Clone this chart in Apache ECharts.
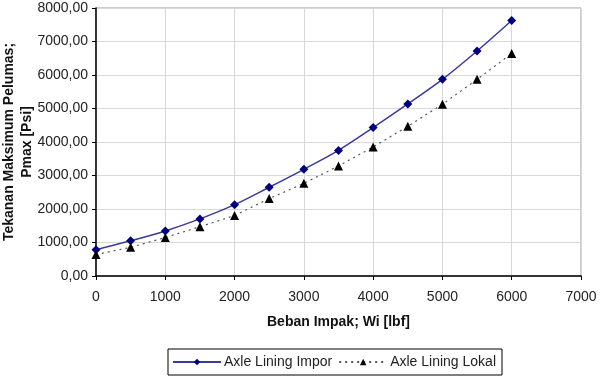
<!DOCTYPE html>
<html>
<head>
<meta charset="utf-8">
<script src="https://cdn.jsdelivr.net/npm/echarts@6/dist/echarts.min.js"></script>
<style>
  html, body { margin: 0; padding: 0; background: #fff; }
  #chart { width: 600px; height: 378px; }
</style>
</head>
<body>
<div id="chart"></div>
<script>
// beban impak Wi [lbf]
const beban = [0, 500, 1000, 1500, 2000, 2500, 3000, 3500, 4000, 4500, 5000, 5500, 6000];
// tekanan maksimum pelumas Pmax [Psi]
const impor = [785, 1050, 1345, 1705, 2130, 2650, 3185, 3750, 4430, 5135, 5870, 6715, 7625];
const lokal = [640, 855, 1150, 1470, 1805, 2310, 2765, 3285, 3850, 4470, 5125, 5870, 6640];

const FONT = "Liberation Sans, Arial, sans-serif";

const chart = echarts.init(document.getElementById("chart"));

const toPairs = (xs, ys) => xs.map((x, i) => [x, ys[i]]);

chart.setOption({
  animation: false,
  textStyle: { fontFamily: FONT },
  grid: {
    left: 96,
    right: 19,
    top: 8,
    bottom: 102,
    containLabel: false,
    outerBoundsMode: "none",
    show: true,
    borderColor: "#999",
    borderWidth: 1
  },
  legend: {
    top: 349,
    left: 168,
    itemWidth: 48,
    itemHeight: 8,
    itemGap: 6,
    padding: [6, 6, 6, 4],
    borderColor: "#000",
    borderWidth: 1,
    textStyle: { fontSize: 14, color: "#222", fontFamily: FONT, padding: [0, 0, 0, -2] },
    data: ["Axle Lining Impor", "Axle Lining Lokal"]
  },
  xAxis: {
    type: "value",
    min: 0,
    max: 7000,
    interval: 1000,
    name: "Beban Impak; Wi [lbf]",
    nameLocation: "middle",
    nameGap: 39,
    nameMoveOverlap: false,
    nameTextStyle: { fontWeight: "bold", fontSize: 14, color: "#111" },
    axisLine: { lineStyle: { color: "#000", width: 1.5 } },
    axisTick: { show: true, inside: false, length: 4, lineStyle: { color: "#000" } },
    axisLabel: { fontSize: 14, color: "#222", margin: 14, formatter: v => String(v) },
    splitLine: { show: true, lineStyle: { color: "#d8d8d8" } }
  },
  yAxis: {
    type: "value",
    min: 0,
    max: 8000,
    interval: 1000,
    name: "Tekanan Maksimum Pelumas;\nPmax [Psi]",
    nameLocation: "middle",
    nameRotate: 90,
    nameGap: 60,
    nameMoveOverlap: false,
    nameTextStyle: { fontWeight: "bold", fontSize: 14, color: "#111", lineHeight: 18 },
    axisLine: { show: true, lineStyle: { color: "#000", width: 1.5 } },
    axisTick: { show: true, inside: false, length: 4, lineStyle: { color: "#000" } },
    axisLabel: {
      fontSize: 14,
      color: "#222",
      margin: 8,
      formatter: v => v.toFixed(2).replace(".", ",")
    },
    splitLine: { show: true, lineStyle: { color: "#d8d8d8" } }
  },
  series: [
    {
      name: "Axle Lining Impor",
      type: "line",
      smooth: 0.3,
      data: toPairs(beban, impor),
      symbol: "diamond",
      symbolSize: 9,
      itemStyle: { color: "#000080" },
      lineStyle: { color: "#3a3aa0", width: 1.5 }
    },
    {
      name: "Axle Lining Lokal",
      type: "line",
      data: toPairs(beban, lokal),
      symbol: "triangle",
      symbolSize: 9,
      itemStyle: { color: "#000" },
      lineStyle: { color: "#555", width: 1.2, type: [2, 4] }
    }
  ]
});
</script>
</body>
</html>
